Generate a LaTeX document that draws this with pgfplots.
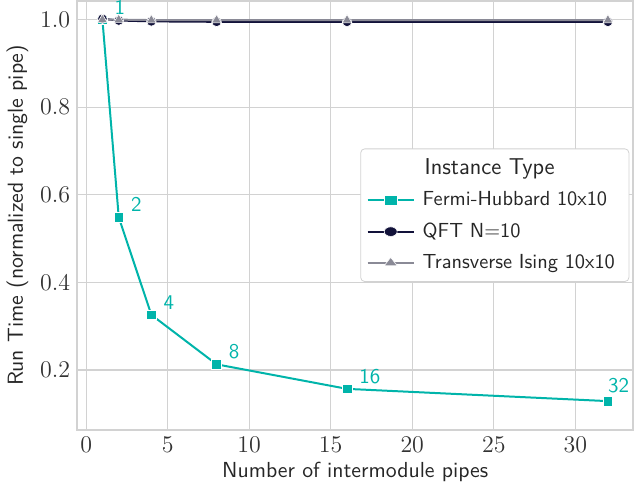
\documentclass[border=0pt]{standalone}
\usepackage{pgfplots}
\pgfplotsset{compat=1.18}
\definecolor{teal1}{RGB}{0,180,170}
\definecolor{navy1}{RGB}{18,18,58}
\definecolor{gray1}{RGB}{138,138,150}
\definecolor{gridc}{RGB}{210,210,210}
\begin{document}
\begin{tikzpicture}
\begin{axis}[
  scale only axis,
  width=278.5pt, height=215pt,
  xmin=-0.55, xmax=33.55,
  ymin=0.063, ymax=1.043,
  xtick={0,5,...,30},
  ytick={0.2,0.4,0.6,0.8,1.0},
  yticklabel style={/pgf/number format/fixed,/pgf/number format/fixed zerofill,/pgf/number format/precision=1},
  major tick length=0pt,
  grid=major,
  major grid style={gridc, line width=0.6pt},
  axis line style={gridc, line width=0.8pt},
  tick label style={font=\fontsize{11.5}{13}\selectfont, text=black!80},
  label style={font=\sffamily\fontsize{10.9}{12}\selectfont, text=black!85},
  xlabel={Number of intermodule pipes},
  ylabel={Run Time (normalized to single pipe)},
  xlabel style={yshift=2pt},
  ylabel style={yshift=-1pt},
  legend style={at={(0.993,0.656)}, anchor=north east, draw=gridc, rounded corners=2pt,
     font=\sffamily\fontsize{10.2}{12}\selectfont, text=black!85, row sep=3pt, inner sep=3pt,
     nodes={inner xsep=4pt}},
  legend cell align=left,
  legend image post style={xscale=1.35},
]
\addlegendimage{empty legend}
\addlegendentry{\hspace{1pt}\fontsize{11.5}{13}\selectfont Instance Type}
\addplot[teal1, line width=1pt, mark=square*, mark size=2.4pt, mark options={solid, fill=teal1, draw=white, line width=0.3pt},
  nodes near coords={\pgfplotspointmeta}, point meta=explicit symbolic,
  every node near coord/.style={anchor=south west, inner sep=0pt, xshift=6pt, yshift=2.5pt, text=teal1, font=\sffamily\fontsize{10.5}{12}\selectfont}]
  coordinates {(1,1.0)[1] (2,0.549)[2] (4,0.326)[4] (8,0.213)[8] (16,0.157)[16]};
\addlegendentry{Fermi-Hubbard 10x10}
\addplot[navy1, line width=1pt, mark=*, mark size=2.4pt, mark options={solid, fill=navy1, draw=white, line width=0.3pt}]
  coordinates {(1,1.002) (2,0.998) (4,0.996) (8,0.995) (16,0.995) (32,0.995)};
\addlegendentry{QFT N=10}
\addplot[gray1, line width=1pt, mark=triangle*, mark size=2.8pt, mark options={solid, fill=gray1, draw=white, line width=0.3pt}]
  coordinates {(1,1.0) (2,1.0) (4,0.999) (8,0.999) (16,0.999) (32,0.999)};
\addlegendentry{Transverse Ising 10x10}
\addplot[teal1, line width=1pt, mark=square*, mark size=2.4pt, mark options={solid, fill=teal1, draw=white, line width=0.3pt},
  nodes near coords={\pgfplotspointmeta}, point meta=explicit symbolic,
  every node near coord/.style={anchor=south west, inner sep=0pt, xshift=0pt, yshift=4pt, text=teal1, font=\sffamily\fontsize{10.5}{12}\selectfont}, forget plot]
  coordinates {(16,0.157)[] (32,0.129)[32]};
\end{axis}
\end{tikzpicture}
\end{document}
